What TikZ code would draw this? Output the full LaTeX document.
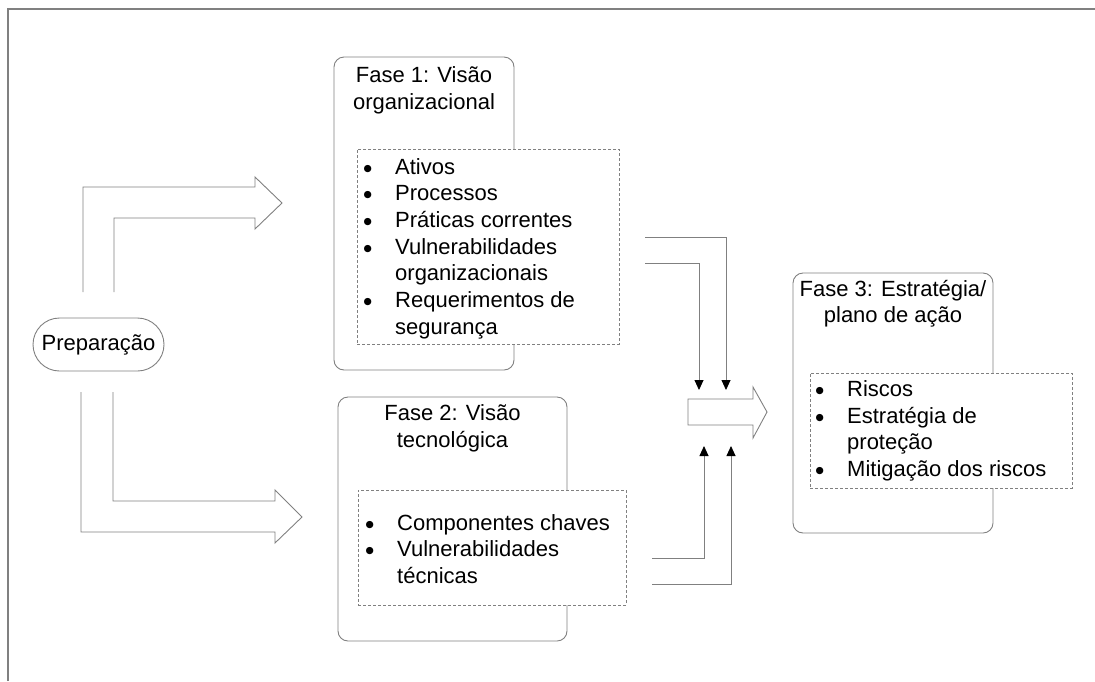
\documentclass[tikz,border=0pt]{standalone}
\usepackage{fontspec}
\setmainfont{Liberation Sans}
\newfontfamily\symfont{DejaVu Sans}
\usetikzlibrary{arrows.meta}
\definecolor{linegray}{RGB}{128,128,128}
\newcommand\txtsize{\fontsize{22}{26.7}\selectfont}
\newcommand\bul{\raisebox{2.9pt}{\symfont\fontsize{9.5}{9.5}\selectfont ●}}
\tikzset{
  phasebox/.style={draw=linegray, line width=0.9pt, rounded corners=10pt, fill=white, inner sep=0pt},
  listbox/.style={draw=linegray, line width=0.8pt, dash pattern=on 3pt off 2pt, fill=white, inner sep=0pt},
  prepbox/.style={draw=linegray, line width=0.9pt, rounded corners=26.5pt, fill=white, inner sep=0pt, minimum width=131pt, minimum height=53pt},
  blockarrow/.style={draw=linegray, line width=0.9pt, fill=white, line join=miter},
  conn/.style={draw=linegray, line width=0.9pt, -{Triangle[length=10pt,width=9pt,color=black]}},
  frameline/.style={draw=linegray, line width=1.6pt},
  txt/.style={inner sep=0pt, font=\txtsize},
}
\begin{document}
\begin{tikzpicture}[x=1pt,y=-1pt]
\useasboundingbox (0,0) rectangle (1095,681);
% frame
\draw[frameline] (8,681) -- (8,9) -- (1095,9);

% Preparacao
\node[prepbox, font=\txtsize] (prep) at (98.5,344.5) {Preparação};

% bent block arrows
\draw[blockarrow] (83,292) -- (83,187) -- (255,187) -- (255,177) -- (282,203) -- (255,229) -- (255,218) -- (114,218) -- (114,292);
\draw[blockarrow] (81,392) -- (81,532) -- (275,532) -- (275,543) -- (302,517) -- (275,490) -- (275,501) -- (113,501) -- (113,392);

% phase 1
\node[phasebox, minimum width=180pt, minimum height=313pt] (f1) at (424,213.5) {};
\node[txt, anchor=base] (t1) at (424,82.5) {\begin{tabular}[t]{@{}c@{}}Fase 1: Visão\\organizacional\end{tabular}};
\node[listbox, minimum width=262pt, minimum height=195pt] (d1) at (488,246.5) {};
\node[txt, anchor=base west] (l1) at (363.5,174) {\begin{tabular}[t]{@{}p{31.5pt}@{}l@{}}
\bul & Ativos\\
\bul & Processos\\
\bul & Práticas correntes\\
\bul & Vulnerabilidades\\
 & organizacionais\\
\bul & Requerimentos de\\
 & segurança
\end{tabular}};

% phase 2
\node[phasebox, minimum width=229pt, minimum height=244pt] (f2) at (452.5,519) {};
\node[txt, anchor=base] (t2) at (452.5,420.5) {\begin{tabular}[t]{@{}c@{}}Fase 2: Visão\\tecnológica\end{tabular}};
\node[listbox, minimum width=268pt, minimum height=115pt] (d2) at (492,547.5) {};
\node[txt, anchor=base west] (l2) at (365.5,530) {\begin{tabular}[t]{@{}p{31.5pt}@{}l@{}}
\bul & Componentes chaves\\
\bul & Vulnerabilidades\\
 & técnicas
\end{tabular}};

% phase 3
\node[phasebox, minimum width=200pt, minimum height=260pt] (f3) at (893,403) {};
\node[txt, anchor=base] (t3) at (893,296) {\begin{tabular}[t]{@{}c@{}}Fase 3: Estratégia/\\plano de ação\end{tabular}};
\node[listbox, minimum width=262pt, minimum height=115pt] (d3) at (941,430.5) {};
\node[txt, anchor=base west] (l3) at (815.5,396.5) {\begin{tabular}[t]{@{}p{31.5pt}@{}l@{}}
\bul & Riscos\\
\bul & Estratégia de\\
 & proteção\\
\bul & Mitigação dos riscos
\end{tabular}};

% central block arrow
\draw[blockarrow] (688,399) -- (753,399) -- (753,387) -- (767,412) -- (753,438) -- (753,425) -- (688,425) -- cycle;

% connectors
\coordinate (a1s) at (645,237);
\coordinate (a1e) at (726,390);
\coordinate (a2s) at (645,263);
\coordinate (a2e) at (699,390);
\coordinate (b1s) at (652,558);
\coordinate (b1e) at (704,446);
\coordinate (b2s) at (652,584);
\coordinate (b2e) at (731,446);
\draw[conn] (a1s) -| (a1e);
\draw[conn] (a2s) -| (a2e);
\draw[conn] (b1s) -| (b1e);
\draw[conn] (b2s) -| (b2e);
\end{tikzpicture}
\end{document}
